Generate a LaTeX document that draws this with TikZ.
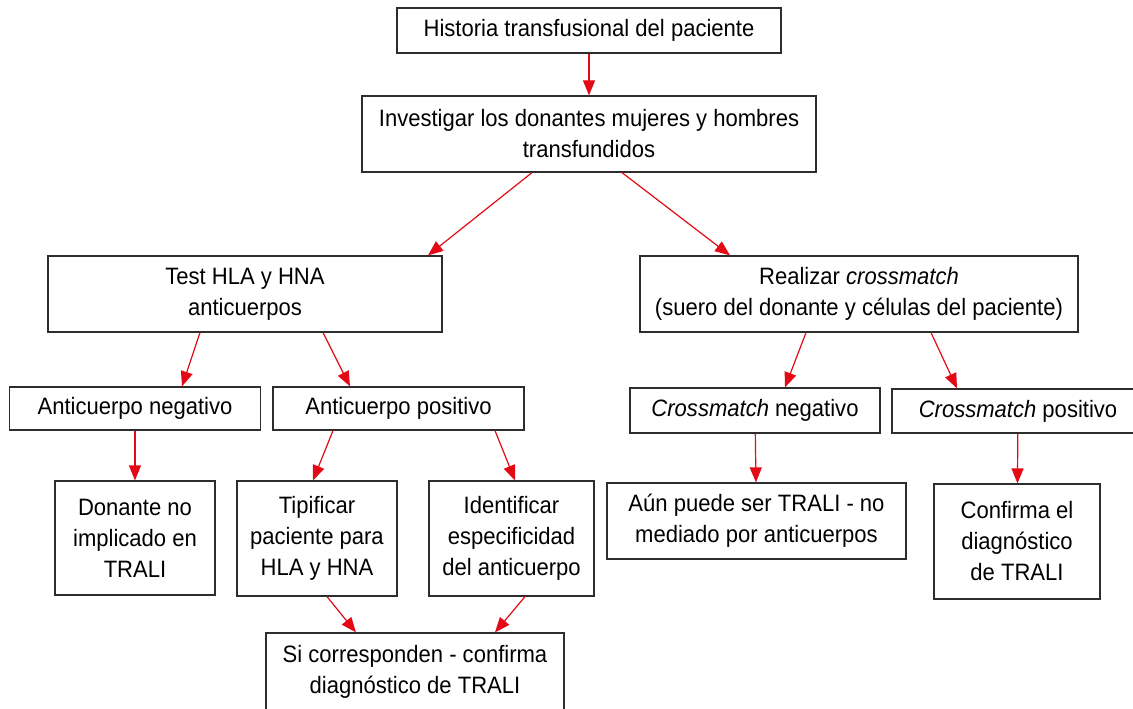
\documentclass[tikz,border=0pt]{standalone}
\usepackage{fontspec}
\setmainfont{Liberation Sans}[FakeStretch=0.93]
\usepackage{tikz}
\usetikzlibrary{arrows.meta, positioning}
\definecolor{arrowred}{RGB}{227,10,22}
\definecolor{boxline}{RGB}{45,45,45}

\begin{document}
\begin{tikzpicture}[x=1pt,y=-1pt,node distance=120pt]
 \tikzstyle{flowbox}=[rectangle,draw=boxline,line width=1.2pt,inner sep=0pt,
   align=center,font=\fontsize{23.7}{31}\selectfont]
 \tikzstyle{redarrow}=[draw=arrowred,line width=1.2pt,
   -{Triangle[length=15pt,width=12pt]},color=arrowred]
 \path[use as bounding box,clip] (0,0) rectangle (1133,709);
 \node (hist) [flowbox,minimum width=384pt,minimum height=45pt] at (589,30.5)
   {Historia transfusional del paciente};
 \node (invest) [flowbox,below of=hist,yshift=16.5pt,
   minimum width=454pt,minimum height=76pt]
   {Investigar los donantes mujeres y hombres\\transfundidos};
 \node (test) [flowbox,below of=invest,xshift=-344pt,yshift=-40pt,
   minimum width=394pt,minimum height=76pt]
   {Test HLA y HNA\\anticuerpos};
 \node (real) [flowbox,below of=invest,xshift=270pt,yshift=-40pt,
   minimum width=438pt,minimum height=76pt]
   {Realizar \textit{crossmatch}\\(suero del donante y células del paciente)};
 \node (aneg) [flowbox,below of=test,xshift=-110pt,yshift=5.5pt,
   minimum width=251pt,minimum height=43pt]
   {Anticuerpo negativo};
 \node (apos) [flowbox,below of=test,xshift=153.5pt,yshift=5.5pt,
   minimum width=251pt,minimum height=43pt]
   {Anticuerpo positivo};
 \node (cneg) [flowbox,below of=real,xshift=-104pt,yshift=3.5pt,
   minimum width=250pt,minimum height=45pt]
   {\textit{Crossmatch} negativo};
 \node (cpos) [flowbox,below of=real,xshift=159pt,yshift=3pt,
   minimum width=252pt,minimum height=44pt]
   {\textit{Crossmatch} positivo};
 \node (don) [flowbox,below of=aneg,yshift=-9.5pt,
   minimum width=160pt,minimum height=114pt]
   {Donante no\\implicado en\\TRALI};
 \node (tip) [flowbox,below of=apos,xshift=-81.5pt,yshift=-10pt,
   minimum width=160pt,minimum height=115pt]
   {Tipificar\\paciente para\\HLA y HNA};
 \node (ident) [flowbox,below of=apos,xshift=113pt,yshift=-10pt,
   minimum width=165pt,minimum height=115pt]
   {Identificar\\especificidad\\del anticuerpo};
 \node (si) [flowbox,below of=tip,xshift=98pt,yshift=-13.5pt,
   minimum width=298pt,minimum height=78pt]
   {Si corresponden - confirma\\diagnóstico de TRALI};
 \node (aun) [flowbox,below of=cneg,xshift=1.5pt,yshift=9.5pt,
   minimum width=299pt,minimum height=76pt]
   {Aún puede ser TRALI - no\\mediado por anticuerpos};
 \node (conf) [flowbox,below of=cpos,xshift=-1pt,yshift=-10.5pt,
   minimum width=166pt,minimum height=115pt]
   {Confirma el\\diagnóstico\\de TRALI};
 \draw[redarrow] (hist) -- (invest);
 \draw[redarrow] ([xshift=-57pt]invest.south) -- ([xshift=183pt]test.north);
 \draw[redarrow] ([xshift=33pt]invest.south) -- ([xshift=-129pt]real.north);
 \draw[redarrow] ([xshift=-45pt]test.south) -- ([xshift=47pt]aneg.north);
 \draw[redarrow] ([xshift=78pt]test.south) -- ([xshift=-48.5pt]apos.north);
 \draw[redarrow] ([xshift=-53pt]real.south) -- ([xshift=30pt]cneg.north);
 \draw[redarrow] ([xshift=72pt]real.south) -- ([xshift=-61pt]cpos.north);
 \draw[redarrow] (aneg) -- (don);
 \draw[redarrow] ([xshift=-65.5pt]apos.south) -- ([xshift=-4pt]tip.north);
 \draw[redarrow] ([xshift=96.5pt]apos.south) -- ([xshift=3.5pt]ident.north);
 \draw[redarrow] ([xshift=10pt]tip.south) -- ([xshift=-59pt]si.north);
 \draw[redarrow] ([xshift=13.5pt]ident.south) -- ([xshift=80pt]si.north);
 \draw[redarrow] (cneg) -- (aun);
 \draw[redarrow] (cpos) -- (conf);
\end{tikzpicture}
\end{document}
